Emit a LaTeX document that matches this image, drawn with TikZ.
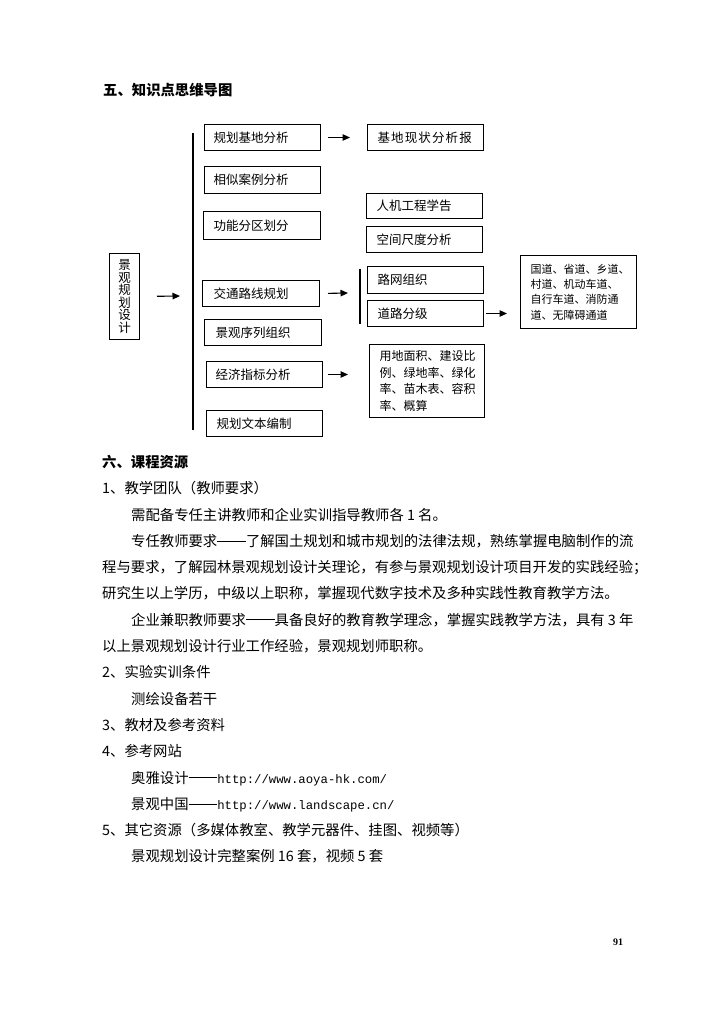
\documentclass[tikz,border=0pt]{standalone}
\usepackage{fontspec}
\setmainfont{Noto Sans CJK SC}
\newfontfamily\urlfont{Liberation Mono}
\newfontfamily\pnfont{Liberation Serif}
\usetikzlibrary{arrows.meta}
\newcommand\cjkdash{\rule[0.34em]{2em}{0.06em}}
\begin{document}
\begin{tikzpicture}[x=1pt,y=-1pt,
  box/.style={draw, line width=1pt, anchor=north west, inner ysep=0pt, align=left,
    font=\fontsize{12.5}{14}\selectfont},
  arr/.style={line width=1.1pt, -{Triangle[length=7.5pt,width=6.5pt]}},
  bar/.style={line width=1.2pt},
  txt/.style={anchor=base west, inner sep=0pt, font=\fontsize{14.35}{16}\selectfont},
  head/.style={anchor=base west, inner sep=0pt, font=\fontsize{14.35}{16}\selectfont\bfseries}]
\useasboundingbox (0,0) rectangle (714,1010);
\fill[white] (0,0) rectangle (714,1010);

% title
\node[head] (t5) at (103,95.4) {五、知识点思维导图};

% root
\node[draw, line width=1pt, anchor=north west, inner sep=0pt, minimum width=30pt, minimum height=86pt,
  align=center, font=\fontsize{12.5}{12.6}\selectfont] (root) at (109,253) {景\\观\\规\\划\\设\\计};

% column 1
\node[box, inner xsep=9pt,  text width=98pt, minimum height=26pt] (A) at (204,124) {规划基地分析};
\node[box, inner xsep=9pt,  text width=98pt, minimum height=27pt] (B) at (204,166) {相似案例分析};
\node[box, inner xsep=10pt, text width=97pt, minimum height=28pt] (C) at (203,211) {功能分区划分};
\node[box, inner xsep=11pt, text width=95pt, minimum height=26pt] (D) at (202,280) {交通路线规划};
\node[box, inner xsep=11pt, text width=95pt, minimum height=26pt] (E) at (204,319) {景观序列组织};
\node[box, inner xsep=9pt,  text width=98pt, minimum height=26pt] (F) at (206,361) {经济指标分析};
\node[box, inner xsep=10pt, text width=96pt, minimum height=26pt] (G) at (206,410) {规划文本编制};

% column 2
\node[box, inner xsep=10pt, text width=96pt, minimum height=26pt] (H) at (367,124) {\addfontfeature{LetterSpace=9}基地现状分析报};
\node[box, inner xsep=10pt, text width=96pt, minimum height=25pt] (I) at (366,193) {人机工程学告};
\node[box, inner xsep=10pt, text width=96pt, minimum height=26pt] (J) at (366,226) {空间尺度分析};
\node[box, inner xsep=10pt, text width=96pt, minimum height=27pt] (K) at (367,266) {路网组织};
\node[box, inner xsep=10pt, text width=96pt, minimum height=26pt] (L) at (367,300) {道路分级};
\node[box, inner xsep=10pt, text width=95pt, minimum height=73pt,
  font=\fontsize{12}{16.7}\selectfont] (N) at (369,344) {用地面积、建设比\\例、绿地率、绿化\\率、苗木表、容积\\率、概算};
\node[box, inner xsep=10pt, text width=96pt, minimum height=73pt,
  font=\fontsize{11}{15.3}\selectfont] (M) at (520,255) {国道、省道、乡道、\\村道、机动车道、\\自行车道、消防通\\道、无障碍通道};

% bars
\coordinate (b1t) at (193,133);
\coordinate (b1b) at (193,430);
\draw[bar] (b1t) -- (b1b);
\coordinate (b2t) at (360,269);
\coordinate (b2b) at (360,324);
\draw[bar] (b2t) -- (b2b);

% arrows
\coordinate (r1) at (180,296);
\draw[arr, shorten <=17pt] (root.east) -- (r1);
\draw[arr, shorten <=7pt, shorten >=17pt] (A.east) -- (A.east -| H.west);
\coordinate (d1) at (348,293);
\draw[arr, shorten <=8pt] (D.east) -- (d1);
\draw[arr, shorten <=5pt, shorten >=21pt] (F.east) -- (F.east -| N.west);
\draw[arr, shorten <=2pt, shorten >=13pt] (L.east) -- (L.east -| M.west);

% section six
\node[head] (t6) at (102,467.4) {六、课程资源};
\node[txt] (l1)  at (102,493.7) {1、教学团队（教师要求）};
\node[txt] (l2)  at (131,520.0) {需配备专任主讲教师和企业实训指导教师各 1 名。};
\node[txt] (l3)  at (131,546.3) {专任教师要求\cjkdash 了解国土规划和城市规划的法律法规，熟练掌握电脑制作的流};
\node[txt] (l4)  at (102,572.6) {程与要求，了解园林景观规划设计关理论，有参与景观规划设计项目开发的实践经验；};
\node[txt] (l5)  at (102,598.9) {研究生以上学历，中级以上职称，掌握现代数字技术及多种实践性教育教学方法。};
\node[txt] (l6)  at (131,625.2) {企业兼职教师要求\cjkdash 具备良好的教育教学理念，掌握实践教学方法，具有 3 年};
\node[txt] (l7)  at (102,651.5) {以上景观规划设计行业工作经验，景观规划师职称。};
\node[txt] (l8)  at (102,677.8) {2、实验实训条件};
\node[txt] (l9)  at (131,704.1) {测绘设备若干};
\node[txt] (l10) at (102,730.4) {3、教材及参考资料};
\node[txt] (l11) at (102,756.7) {4、参考网站};
\node[txt] (l12) at (131,783.0) {奥雅设计\cjkdash{\urlfont\fontsize{12.3}{14}\selectfont http://www.aoya-hk.com/}};
\node[txt] (l13) at (131,809.3) {景观中国\cjkdash{\urlfont\fontsize{12.3}{14}\selectfont http://www.landscape.cn/}};
\node[txt] (l14) at (102,835.6) {5、其它资源（多媒体教室、教学元器件、挂图、视频等）};
\node[txt] (l15) at (131,861.9) {景观规划设计完整案例 16 套，视频 5 套};

% page number
\node[anchor=base, inner sep=0pt, font=\pnfont\bfseries\fontsize{10}{12}\selectfont] (pn) at (618,945) {91};
\end{tikzpicture}
\end{document}
